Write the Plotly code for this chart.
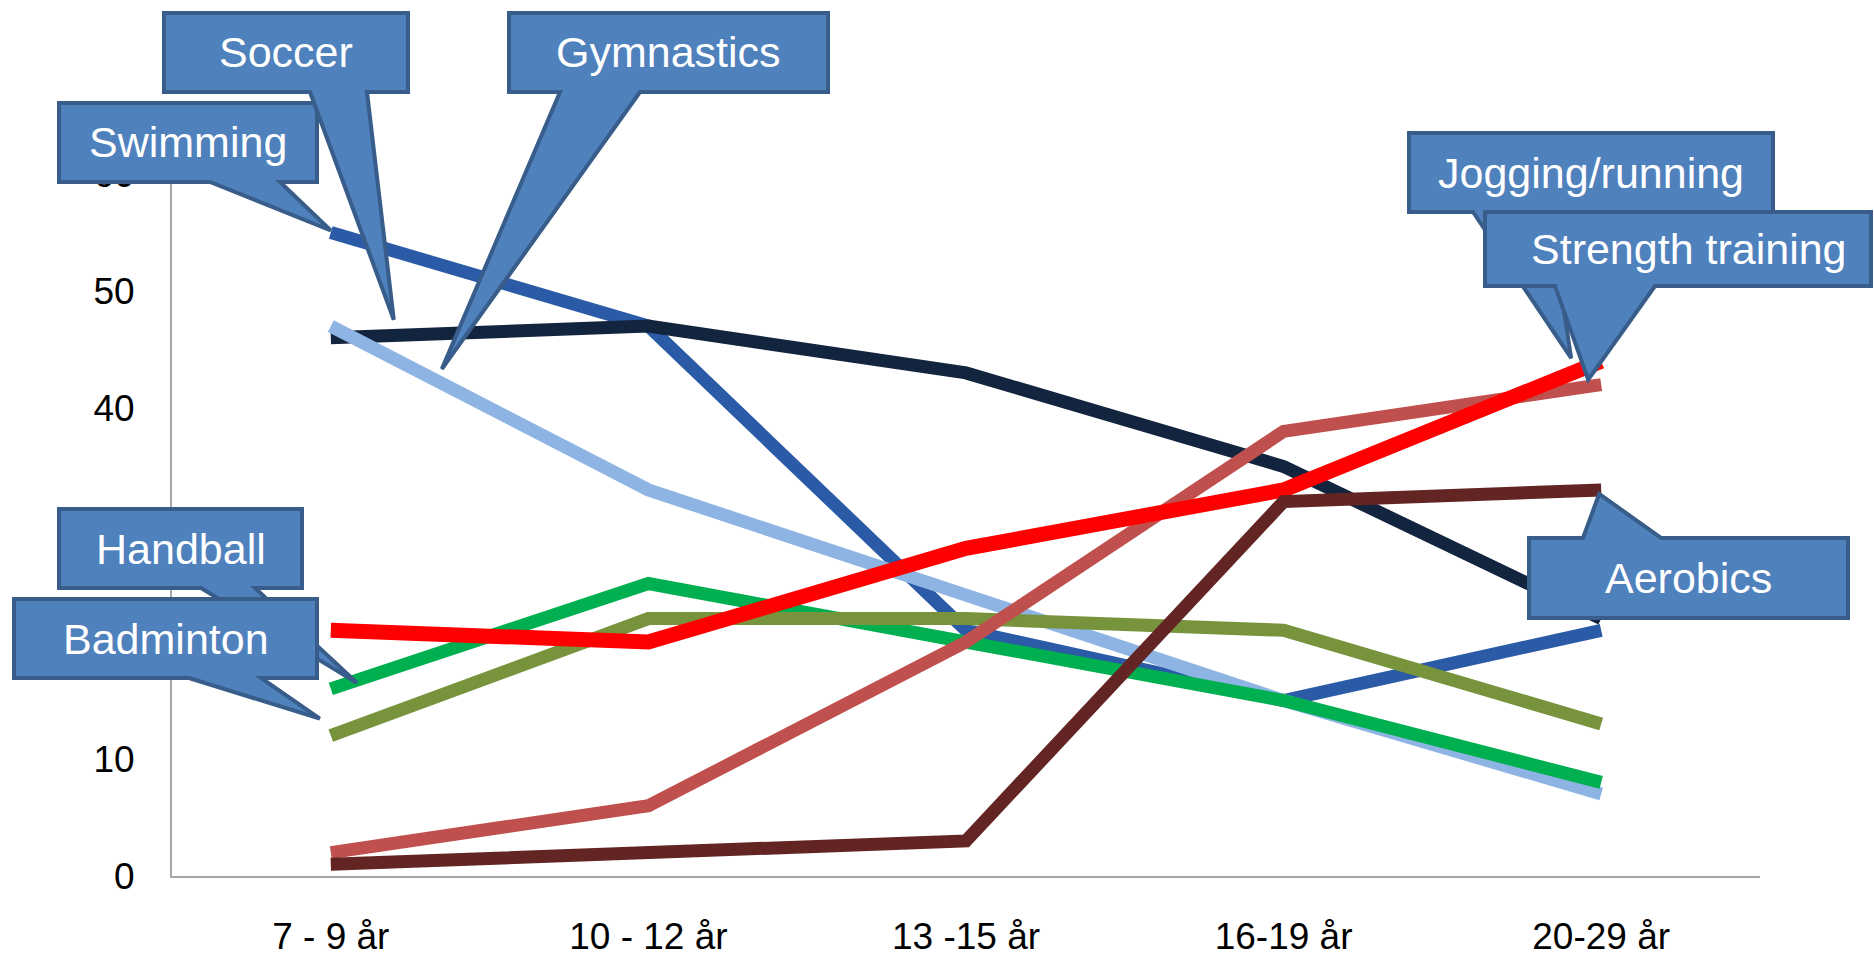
import plotly.graph_objects as go

# Age groups on the x axis
categories = ["7 - 9 år", "10 - 12 år", "13 -15 år", "16-19 år", "20-29 år"]

# Share of each age group practising the activity
swimming = [55, 47, 21, 15, 21]
soccer = [46, 47, 43, 35, 22]
gymnastics = [47, 33, 24, 15, 7]
handball = [16, 25, 20, 15, 8]
badminton = [12, 22, 22, 21, 13]
jogging = [21, 20, 28, 33, 44]
strength = [2, 6, 20, 38, 42]
aerobics = [1, 2, 3, 32, 33]

# y-axis ticks; 20 and 30 sit under the Handball/Badminton bubbles
y_ticks = [0, 10, 20, 30, 40, 50, 60]
y_tick_text = ["0", "10", "", "", "40", "50", "60"]

series = [
    ("Swimming", swimming, "#2B5BA6", 13),
    ("Soccer", soccer, "#13243F", 13),
    ("Gymnastics", gymnastics, "#8DB4E2", 13),
    ("Handball", handball, "#00B050", 13),
    ("Badminton", badminton, "#77933C", 13),
    ("Strength training", strength, "#C0504D", 13),
    ("Jogging/running", jogging, "#FF0000", 15),
    ("Aerobics", aerobics, "#632523", 13),
]

W, H = 1874, 960
PL, PR, PT, PB = 172, 1760, 174, 876
Y_MAX = 60

fig = go.Figure()
for name, vals, color, width in series:
    fig.add_trace(go.Scatter(
        x=categories, y=vals, mode="lines", name=name,
        line=dict(color=color, width=width),
    ))


# pixel <-> paper helpers for the callout bubbles
def to_paper(x, y):
    return (x - PL) / (PR - PL), (PB - y) / (PB - PT)


def data_px(i, v):
    x = PL + (i + 0.5) * (PR - PL) / len(categories)
    y = PB - v * (PB - PT) / Y_MAX
    return x, y


# label, box (x0, y0, x1, y1), tail edge, tail base, anchor point, tip offset
callouts = [
    ("Swimming", (59, 103, 317, 182), "bottom", (210, 280), (swimming, 0), (0, -2)),
    ("Soccer", (164, 13, 408, 92), "bottom", (310, 367), (soccer, 0), (63, -18)),
    ("Gymnastics", (509, 13, 828, 92), "bottom", (560, 640), (gymnastics, 0), (111, 43)),
    ("Handball", (59, 509, 302, 588), "bottom", (201, 255), (handball, 0), (26, -6)),
    ("Badminton", (14, 599, 317, 678), "bottom", (189, 261), (badminton, 0), (-11, -17)),
    ("Jogging/running", (1409, 133, 1773, 212), "bottom", (1473, 1549), (jogging, 4), (-30, -3)),
    ("Strength training", (1485, 212, 1871, 286), "bottom", (1555, 1655), (strength, 4), (-13, -5)),
    ("Aerobics", (1529, 538, 1848, 618), "top", (1583, 1661), (aerobics, 4), (-2, 4)),
]

shapes = []
annotations = []
for label, (x0, y0, x1, y1), edge, (b0, b1), (vals, idx), (ox, oy) in callouts:
    ax, ay = data_px(idx, vals[idx])
    tx, ty = ax + ox, ay + oy
    if edge == "bottom":
        pts = [(x0, y0), (x1, y0), (x1, y1), (b1, y1), (tx, ty), (b0, y1), (x0, y1)]
    else:
        pts = [(x0, y0), (b0, y0), (tx, ty), (b1, y0), (x1, y0), (x1, y1), (x0, y1)]
    path = "M " + " L ".join("%.5f,%.5f" % to_paper(px, py) for px, py in pts) + " Z"
    shapes.append(dict(
        type="path", xref="paper", yref="paper", path=path,
        fillcolor="#4F81BD", line=dict(color="#385D8A", width=4), layer="above",
    ))
    cx, cy = to_paper(1689 if label == "Strength training" else (x0 + x1) / 2, (y0 + y1) / 2)
    annotations.append(dict(
        text=label, x=cx, y=cy, xref="paper", yref="paper",
        xanchor="center", yanchor="middle", showarrow=False,
        font=dict(family="Liberation Sans, Arial, sans-serif", size=43, color="white"),
    ))

axis_font = dict(family="Liberation Sans, Arial, sans-serif", size=37, color="#000000")

fig.update_layout(
    width=W, height=H, autosize=False,
    margin=dict(l=PL, r=W - PR, t=PT, b=H - PB, pad=0),
    paper_bgcolor="white", plot_bgcolor="white",
    showlegend=False,
    shapes=shapes, annotations=annotations,
    xaxis=dict(
        type="category", range=[-0.5, len(categories) - 0.5],
        showline=True, linecolor="#A6A6A6", linewidth=2,
        showgrid=False, zeroline=False, ticks="", automargin=False,
        tickfont=axis_font, ticklabelstandoff=27,
    ),
    yaxis=dict(
        range=[0, Y_MAX], tickmode="array", tickvals=y_ticks, ticktext=y_tick_text,
        showline=True, linecolor="#A6A6A6", linewidth=2,
        showgrid=False, zeroline=False, ticks="", automargin=False,
        tickfont=axis_font, ticklabelstandoff=28,
    ),
)

fig.write_html("out.html")
